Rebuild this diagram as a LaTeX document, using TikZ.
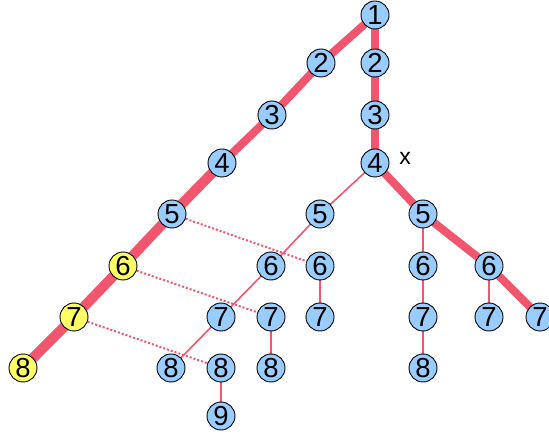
\documentclass[tikz,border=0pt]{standalone}
\usepackage{fontspec}
\setmainfont{Liberation Sans}
\usetikzlibrary{positioning,backgrounds}
\definecolor{tblue}{HTML}{99CCFF}
\definecolor{tyellow}{HTML}{FFFF66}
\definecolor{tred}{HTML}{F2566F}

\begin{document}
\begin{tikzpicture}[x=1pt, y=-1pt,
  vtx/.style={circle, draw, line width=0.9pt, fill=tblue, minimum size=28pt,
    inner sep=0pt, font=\fontsize{27.5}{27.5}\selectfont},
  hit/.style={vtx, fill=tyellow},
  trunk/.style={tred, line width=8pt},
  trunkw/.style={tred, line width=10pt},
  twig/.style={tred, line width=1.6pt},
  match/.style={tred, line width=2pt, dash pattern=on 2pt off 2pt}]
\useasboundingbox (0,0) rectangle (549,435);
% ---------------- main path, left ----------------
\node[vtx] (r) at (375,15) {1};
\node[vtx] (l2) at (321,63) {2};
\node[vtx] (l3) at (272,115) {3};
\node[vtx] (l4) at (222,163) {4};
\node[vtx] (l5) at (172,214) {5};
\node[hit] (l6) at (123,266) {6};
\node[hit] (l7) at (74,317) {7};
\node[hit] (l8) at (23,368) {8};
% ---------------- vertical path ----------------
\node[vtx] (v2) at (375,63) {2};
\node[vtx] (v3) at (375,115) {3};
\node[vtx] (v4) at (375,163) {4};
\node[font=\fontsize{23}{23}\selectfont] (xm) at (405,158) {x};
% ---------------- thin diagonal and columns ----------------
\node[vtx] (d5) at (320,214) {5};
\node[vtx] (d6) at (271,266) {6};
\node[vtx] (d7) at (221,317) {7};
\node[vtx] (d8) at (171,368) {8};
\node[vtx] (m6) at (320,266) {6};
\node[vtx] (m7) at (320,317) {7};
\node[vtx] (n7) at (271,317) {7};
\node[vtx] (n8) at (271,368) {8};
\node[vtx] (p8) at (221,368) {8};
\node[vtx] (p9) at (221,416) {9};
% ---------------- right branch ----------------
\node[vtx] (r5) at (423,214) {5};
\node[vtx] (r6) at (489,266) {6};
\node[vtx] (r7) at (540,317) {7};
\node[vtx] (s6) at (423,266) {6};
\node[vtx] (s7) at (423,317) {7};
\node[vtx] (s8) at (423,368) {8};
\node[vtx] (t7) at (489,317) {7};
% ---------------- edges ----------------
\begin{scope}[on background layer]
\draw[trunk] (r.center) -- (l2.center) -- (l3.center) -- (l4.center);
\draw[trunkw] (l4.center) -- (l5.center) -- (l6.center) -- (l7.center) -- (l8.center);
\draw[trunk] (r.center) -- (v2.center) -- (v3.center) -- (v4.center);
\draw[trunk] (v4.center) -- (r5.center) -- (r6.center) -- (r7.center);
\draw[twig] (v4.center) -- (d5.center) -- (d6.center) -- (d7.center) -- (d8.center);
\draw[twig] (m6.center) -- (m7.center);
\draw[twig] (n7.center) -- (n8.center);
\draw[twig] (p8.center) -- (p9.center);
\draw[twig] (r5.center) -- (s6.center) -- (s7.center) -- (s8.center);
\draw[twig] (r6.center) -- (t7.center);
\draw[match] (l5) -- (m6);
\draw[match] (l6) -- (n7);
\draw[match] (l7) -- (p8);
\end{scope}
\end{tikzpicture}
\end{document}
